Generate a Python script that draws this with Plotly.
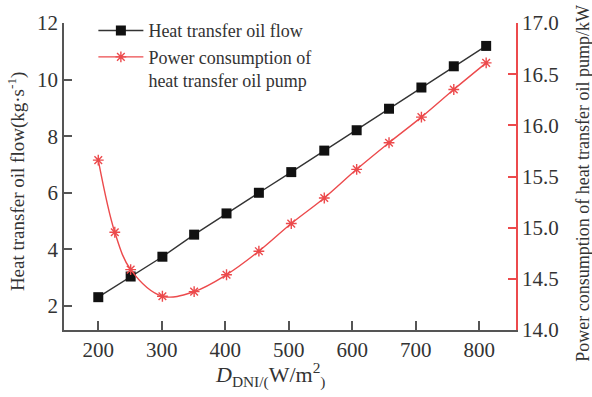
import plotly.graph_objects as go

# Direct normal irradiance (W/m2) at which each series was evaluated
dni_flow = [200, 251, 301, 351, 402, 453, 504, 556, 607, 658, 709, 760, 811]
oil_flow = [2.31, 3.04, 3.74, 4.52, 5.27, 6.00, 6.73, 7.49, 8.21, 8.97, 9.72, 10.47, 11.19]

dni_power = [200, 226, 251, 301, 351, 402, 453, 504, 556, 607, 658, 709, 760, 811]
pump_power = [15.66, 14.955, 14.59, 14.33, 14.375, 14.54, 14.77, 15.04, 15.29, 15.57,
              15.83, 16.08, 16.35, 16.61]

x_ticks = [200, 300, 400, 500, 600, 700, 800]
y_ticks = [2, 4, 6, 8, 10, 12]
y2_ticks = [14.0, 14.5, 15.0, 15.5, 16.0, 16.5, 17.0]

SERIF = "Liberation Serif, Times New Roman, serif"
RED = "#ec4a4c"
AXIS = "#555555"
TEXT = "#333333"

fig = go.Figure()
fig.add_trace(go.Scatter(
    x=dni_flow, y=oil_flow, name="Heat transfer oil flow",
    mode="lines+markers",
    line=dict(color="#333333", width=1.4),
    marker=dict(symbol="square", size=10, color="#111111"),
))
fig.add_trace(go.Scatter(
    x=dni_power, y=pump_power, name="Power consumption of<br>heat transfer oil pump",
    yaxis="y2", mode="lines+markers",
    line=dict(color=RED, width=1.4, shape="spline", smoothing=1.0),
    marker=dict(symbol="asterisk-open", size=9, line=dict(color=RED, width=1.4)),
))

fig.update_layout(
    width=592, height=397,
    margin=dict(l=64, r=76, t=19, b=67),
    paper_bgcolor="white", plot_bgcolor="white",
    font=dict(family=SERIF, color=TEXT, size=18),
    showlegend=True,
    legend=dict(
        x=0.065, y=1.035, xanchor="left", yanchor="top",
        bgcolor="rgba(0,0,0,0)", font=dict(size=18, family=SERIF, color=TEXT),
        itemwidth=45, valign="top", tracegroupgap=0,
    ),
    xaxis=dict(
        range=[146, 858], tickvals=x_ticks, ticks="inside", ticklen=9, tickwidth=1.5,
        tickcolor=AXIS, showline=True, linecolor=AXIS, linewidth=1.5,
        showgrid=False, zeroline=False, mirror=False,
        tickfont=dict(size=21, family=SERIF, color=TEXT),
    ),
    yaxis=dict(
        range=[1.15, 12], tickvals=y_ticks, ticks="inside", ticklen=8, tickwidth=1.5,
        tickcolor=AXIS, showline=True, linecolor=AXIS, linewidth=1.5,
        showgrid=False, zeroline=False,
        tickfont=dict(size=21, family=SERIF, color=TEXT),
    ),
    yaxis2=dict(
        range=[14, 17], tickvals=y2_ticks, tickformat=".1f", overlaying="y", side="right",
        ticks="inside", ticklen=8, tickwidth=1.5, tickcolor=RED,
        showline=True, linecolor=RED, linewidth=1.5,
        showgrid=False, zeroline=False,
        tickfont=dict(size=21, family=SERIF, color=TEXT),
    ),
    annotations=[
        dict(text="Heat transfer oil flow(kg·s<sup>-1</sup>)", xref="paper", yref="paper",
             x=-0.106, y=0.482, xanchor="center", yanchor="middle", textangle=-90,
             showarrow=False, font=dict(size=19, family=SERIF, color=TEXT)),
        dict(text="Power consumption of heat transfer oil pump/kW", xref="paper", yref="paper",
             x=1.148, y=0.479, xanchor="center", yanchor="middle", textangle=-90,
             showarrow=False, font=dict(size=18, family=SERIF, color=TEXT)),
        dict(text="<i>D</i><sub>DNI/(</sub>W/m<sup>2</sup><sub>)</sub>", xref="paper", yref="paper",
             x=0.456, y=-0.145, xanchor="center", yanchor="middle",
             showarrow=False, font=dict(size=22, family=SERIF, color=TEXT)),
    ],
)

fig.write_html("out.html")
